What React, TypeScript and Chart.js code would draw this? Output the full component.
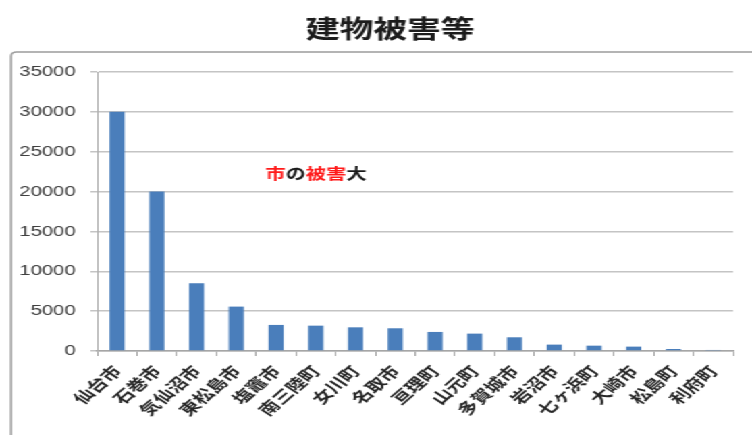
import React, { useEffect, useRef } from "react";
import { Chart, registerables } from "chart.js";

Chart.register(...registerables);

// 宮城県 市町村別 建物被害
const municipalities = [
  "仙台市", "石巻市", "気仙沼市", "東松島市", "塩竈市", "南三陸町", "女川町", "名取市",
  "亘理町", "山元町", "多賀城市", "岩沼市", "七ヶ浜町", "大崎市", "松島町", "利府町",
];
const buildingDamage = [
  30000, 20000, 8500, 5570, 3270, 3180, 2970, 2850,
  2390, 2180, 1720, 800, 670, 550, 250, 130,
];
const yMax = 35000;
const yStep = 5000;
const chartTitle = "建物被害等";
const noteSegments = ["市", "の", "被害", "大"];
const noteHighlighted = [true, false, true, false];
const noteAt = { category: 5, value: 22250 };

// drawn narrow, then widened horizontally by the wrapper
const W = 557;
const H = 435;
const STRETCH = 752 / W;

const CJK = "'Noto Sans CJK JP', 'Noto Sans CJK SC', sans-serif";

const framePlugin = {
  id: "frameAndNote",
  beforeDraw(chart: any) {
    const { ctx, width, height } = chart;
    ctx.save();
    ctx.fillStyle = "#ffffff";
    ctx.fillRect(0, 0, width, height);
    ctx.strokeStyle = "#9c9c9c";
    ctx.lineWidth = 1.6;
    ctx.beginPath();
    (ctx as any).roundRect(8.2, 52, width + 30, height + 30, 4);
    ctx.stroke();
    ctx.font = `bold 25px ${CJK}`;
    ctx.fillStyle = "#1c1c1c";
    ctx.textAlign = "center";
    ctx.textBaseline = "middle";
    ctx.fillText(chartTitle, 289, 28);
    ctx.restore();
  },
  afterDatasetsDraw(chart: any) {
    const { ctx } = chart;
    const xs = chart.scales.x;
    const ys = chart.scales.y;
    const cx = xs.getPixelForValue(noteAt.category);
    const cy = ys.getPixelForValue(noteAt.value);
    ctx.save();
    ctx.font = `bold 15px ${CJK}`;
    ctx.textBaseline = "middle";
    ctx.textAlign = "left";
    const total = noteSegments.reduce((s, t) => s + ctx.measureText(t).width, 0);
    let x = cx - total / 2;
    noteSegments.forEach((t, i) => {
      ctx.fillStyle = noteHighlighted[i] ? "#ff1a1a" : "#1a1a1a";
      ctx.fillText(t, x, cy);
      x += ctx.measureText(t).width;
    });
    ctx.restore();
  },
};

export default function App() {
  const canvasRef = useRef<HTMLCanvasElement | null>(null);

  useEffect(() => {
    const canvas = canvasRef.current;
    if (!canvas) return;
    const chart = new Chart(canvas, {
      type: "bar",
      data: {
        labels: municipalities,
        datasets: [
          {
            data: buildingDamage,
            backgroundColor: "#4a7ebb",
            borderWidth: 0,
            barPercentage: 0.38,
            categoryPercentage: 1,
          },
        ],
      },
      options: {
        responsive: false,
        animation: false,
        devicePixelRatio: 1,
        layout: { padding: { left: 0, right: 14, top: 72, bottom: 0 } },
        plugins: {
          legend: { display: false },
          title: { display: false },
          tooltip: { enabled: false },
        },
        scales: {
          x: {
            offset: true,
            afterFit(scale: any) {
              scale.height = 84;
            },
            grid: {
              drawOnChartArea: false,
              drawTicks: true,
              tickLength: 5,
              tickColor: "#a6a6a6",
              offset: true,
            },
            border: { display: true, color: "#a6a6a6", width: 1.5 },
            ticks: {
              autoSkip: false,
              maxRotation: 49,
              minRotation: 49,
              padding: 6,
              color: "#262626",
              font: { family: CJK, size: 15, weight: "bold" },
            },
          },
          y: {
            min: 0,
            max: yMax,
            afterFit(scale: any) {
              scale.width = 72;
            },
            ticks: {
              stepSize: yStep,
              padding: 11,
              color: "#404040",
              font: { family: "'Liberation Sans', Arial, sans-serif", size: 15 },
              callback: (v: any) => String(v),
            },
            grid: {
              color: "#c4c4c4",
              lineWidth: 1.5,
              tickLength: 5,
              tickColor: "#c4c4c4",
            },
            border: { display: true, color: "#b0b0b0", width: 1 },
          },
        },
      },
      plugins: [framePlugin],
    });
    return () => chart.destroy();
  }, []);

  return (
    <div
      style={{
        position: "fixed",
        left: 0,
        top: 0,
        width: W,
        height: H,
        transform: `scaleX(${STRETCH})`,
        transformOrigin: "0 0",
        background: "#ffffff",
      }}
    >
      <canvas ref={canvasRef} width={W} height={H} style={{ width: W, height: H, display: "block" }} />
    </div>
  );
}
